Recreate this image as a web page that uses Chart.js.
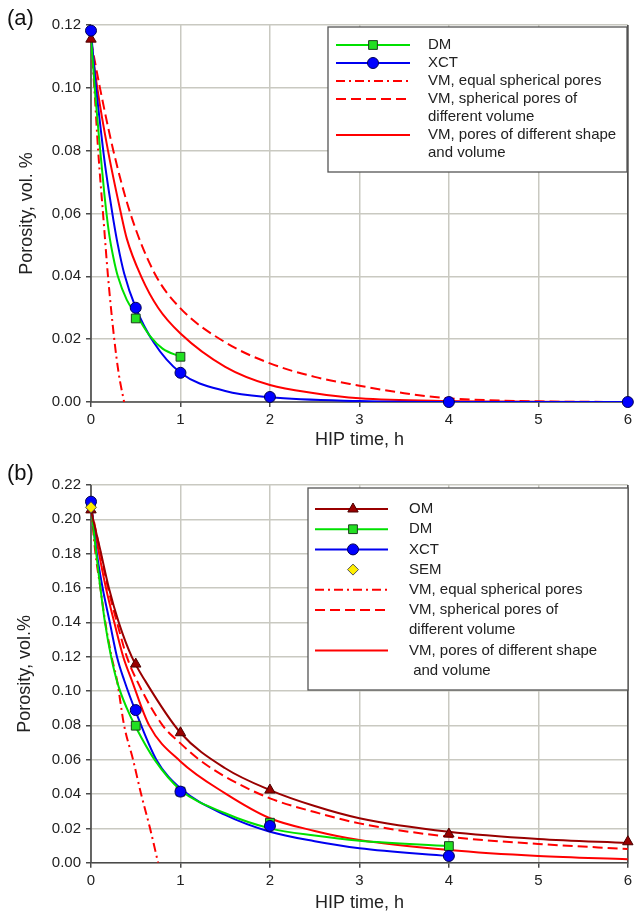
<!DOCTYPE html>
<html>
<head>
<meta charset="utf-8">
<title>HIP porosity</title>
<script src="https://cdn.jsdelivr.net/npm/chart.js@4.4.1/dist/chart.umd.min.js"></script>
<style>
  body { margin: 0; background: #fff; }
  #wrap { position: relative; width: 636px; height: 914px; }
  canvas { position: absolute; left: 0; }
</style>
</head>
<body>
<div id="wrap">
  <canvas id="chartA" width="636" height="455" style="top:0"></canvas>
  <canvas id="chartB" width="636" height="459" style="top:455px"></canvas>
</div>
<script>
// axes
const xTicks = [0, 1, 2, 3, 4, 5, 6];
const yTicksA = [0, 0.02, 0.04, 0.06, 0.08, 0.10, 0.12];
const yLabelsA = ["0.00", "0.02", "0.04", "0,06", "0.08", "0.10", "0.12"];
const yTicksB = [0, 0.02, 0.04, 0.06, 0.08, 0.10, 0.12, 0.14, 0.16, 0.18, 0.20, 0.22];
const yLabelsB = ["0.00", "0.02", "0.04", "0.06", "0.08", "0.10", "0.12", "0.14", "0.16", "0.18", "0.20", "0.22"];

// (a) measured points [time h, porosity]
const omPtsA = [[0, 0.1155]];
const dmPtsA = [[0.5, 0.0266], [1, 0.0144]];
const xctPtsA = [[0, 0.1182], [0.5, 0.030], [1, 0.0093], [2, 0.0016], [4, 0.0], [6, 0.0]];

// (a) fitted / model curves
const dmCurveA = [[0, 0.116], [0.05, 0.097], [0.1, 0.081], [0.15, 0.066], [0.2, 0.054], [0.25, 0.046],
  [0.3, 0.040], [0.4, 0.0325], [0.5, 0.028], [0.66, 0.021], [0.8, 0.017], [1, 0.0144]];
const xctCurveA = [[0, 0.118], [0.05, 0.102], [0.1, 0.089], [0.15, 0.077], [0.2, 0.067], [0.25, 0.058],
  [0.3, 0.050], [0.37, 0.041], [0.5, 0.030], [0.7, 0.019], [1, 0.0093], [1.5, 0.0035], [2, 0.0015],
  [3, 0.0003], [4, 0], [6, 0]];
const vmEqualA = [[0, 0.115], [0.037, 0.10], [0.08, 0.08], [0.14, 0.058], [0.19, 0.04], [0.26, 0.02],
  [0.31, 0.009], [0.37, 0]];
const vmSphericalA = [[0, 0.115], [0.10, 0.10], [0.25, 0.08], [0.44, 0.06], [0.71, 0.041], [1, 0.0298],
  [1.5, 0.019], [2, 0.0123], [2.5, 0.0080], [3, 0.0052], [3.5, 0.0028], [4, 0.0012], [5, 0.0002], [6, 0]];
const vmShapeA = [[0, 0.115], [0.07, 0.10], [0.19, 0.08], [0.335, 0.06], [0.40, 0.052], [0.56, 0.04],
  [0.75, 0.030], [1, 0.0218], [1.5, 0.0112], [2, 0.0054], [2.5, 0.0028], [3, 0.0012], [4, 0.0003],
  [5, 0.0001], [6, 0]];

// (b) measured points
const omPtsB = [[0, 0.2055], [0.5, 0.1157], [1, 0.0757], [2, 0.0423], [4, 0.0167], [6, 0.0122]];
const dmPtsB = [[0, 0.209], [0.5, 0.0798], [1, 0.0414], [2, 0.0233], [4, 0.0097]];
const xctPtsB = [[0, 0.2103], [0.5, 0.0889], [1, 0.0414], [2, 0.0214], [4, 0.0039]];
const semPtsB = [[0, 0.207]];

// (b) fitted / model curves
const omCurveB = [[0, 0.205], [0.1, 0.183], [0.2, 0.16], [0.31, 0.14], [0.455, 0.12], [0.6, 0.1064],
  [1, 0.0757], [1.5, 0.055], [2, 0.0423], [2.5, 0.033], [3, 0.0259], [4, 0.018], [5, 0.0138], [6, 0.0115]];
const dmCurveB = [[0, 0.208], [0.05, 0.184], [0.1, 0.162], [0.156, 0.14], [0.225, 0.12], [0.3, 0.104],
  [0.4, 0.090], [0.5, 0.079], [0.71, 0.06], [1, 0.0424], [1.5, 0.0288], [2, 0.020], [2.5, 0.0158],
  [3, 0.0128], [4, 0.0097]];
const xctCurveB = [[0, 0.210], [0.06, 0.182], [0.13, 0.16], [0.21, 0.14], [0.29, 0.12], [0.37, 0.1064],
  [0.5, 0.088], [0.73, 0.06], [1, 0.0433], [1.5, 0.0278], [2, 0.018], [2.5, 0.0125], [3, 0.0084], [4, 0.0039]];
const vmEqualB = [[0, 0.207], [0.05, 0.18], [0.105, 0.16], [0.16, 0.14], [0.23, 0.12], [0.29, 0.1064],
  [0.37, 0.08], [0.47, 0.06], [0.56, 0.04], [0.66, 0.02], [0.75, 0]];
const vmSphericalB = [[0, 0.207], [0.1, 0.182], [0.19, 0.16], [0.29, 0.14], [0.40, 0.12], [0.51, 0.1064],
  [0.80, 0.08], [1, 0.0695], [1.21, 0.06], [1.5, 0.0501], [2, 0.0375], [2.5, 0.0295], [3, 0.0229],
  [4, 0.0151], [5, 0.0109], [6, 0.0080]];
const vmShapeB = [[0, 0.207], [0.09, 0.18], [0.167, 0.16], [0.26, 0.14], [0.36, 0.12], [0.455, 0.1064],
  [0.65, 0.08], [1, 0.059], [1.5, 0.0404], [2, 0.0259], [2.5, 0.0185], [3, 0.0132], [4, 0.0074],
  [5, 0.0039], [6, 0.0020]];

const FONT = "'Liberation Sans', Arial, sans-serif";
const GREEN = "#00e000";
const BLUE = "#0000f0";
const RED = "#ff0000";
const DARKRED = "#990000";
const GRID = "#c9c9c1";
const AXIS = "#4a4a4a";
const TEXT = "#222";

const DASH = [10, 5];
const DASHDOT = [9, 4, 2, 4];

const OM_MARK = { style: "triangle", fill: DARKRED, stroke: "#4a0000", r: 6 };
const DM_MARK = { style: "rect", fill: "#22e022", stroke: "#1d3d1d", r: 6.2 };
const XCT_MARK = { style: "circle", fill: "#0000ff", stroke: "#000055", r: 5.5 };
const SEM_MARK = { style: "rectRot", fill: "#ffee00", stroke: "#555", r: 5.5 };

function pts(pairs) {
  return pairs.map(p => ({ x: p[0], y: p[1] }));
}

function curve(pairs, color, dash) {
  return {
    data: pts(pairs),
    showLine: true,
    borderColor: color,
    borderWidth: 2,
    borderDash: dash || [],
    pointRadius: 0,
    cubicInterpolationMode: "monotone",
    order: 2,
  };
}

function marks(pairs, m) {
  return {
    data: pts(pairs),
    showLine: false,
    pointStyle: m.style,
    pointRadius: m.r,
    pointBackgroundColor: m.fill,
    pointBorderColor: m.stroke,
    pointBorderWidth: 1,
    clip: false,
    order: 1,
  };
}

// small marker painter for the legend box
function drawMark(ctx, m, x, y) {
  ctx.save();
  ctx.fillStyle = m.fill;
  ctx.strokeStyle = m.stroke;
  ctx.lineWidth = 1;
  ctx.setLineDash([]);
  ctx.beginPath();
  const r = m.r;
  if (m.style === "circle") {
    ctx.arc(x, y, r, 0, Math.PI * 2);
  } else if (m.style === "rect") {
    const s = r * Math.SQRT1_2;
    ctx.rect(x - s, y - s, 2 * s, 2 * s);
  } else if (m.style === "triangle") {
    ctx.moveTo(x, y - r);
    ctx.lineTo(x + r * 0.866, y + r * 0.5);
    ctx.lineTo(x - r * 0.866, y + r * 0.5);
    ctx.closePath();
  } else {
    ctx.moveTo(x, y - r);
    ctx.lineTo(x + r, y);
    ctx.lineTo(x, y + r);
    ctx.lineTo(x - r, y);
    ctx.closePath();
  }
  ctx.fill();
  ctx.stroke();
  ctx.restore();
}

// dark left / bottom / right frame of the plot area, under the curves
const framePlugin = {
  id: "frame",
  beforeDatasetsDraw(chart) {
    const { ctx, chartArea: a } = chart;
    ctx.save();
    ctx.strokeStyle = AXIS;
    ctx.lineWidth = 1.6;
    ctx.beginPath();
    ctx.moveTo(a.left, a.top);
    ctx.lineTo(a.left, a.bottom);
    ctx.lineTo(a.right, a.bottom);
    ctx.lineTo(a.right, a.top);
    ctx.stroke();
    ctx.restore();
  },
  afterDraw(chart, args, opts) {
    const ctx = chart.ctx;
    ctx.save();
    ctx.fillStyle = "#111";
    ctx.font = "22px " + FONT;
    ctx.textBaseline = "middle";
    ctx.fillText(opts.label, 7, 19);
    ctx.restore();
  },
};

const legendPlugin = {
  id: "boxLegend",
  afterDatasetsDraw(chart, args, o) {
    const ctx = chart.ctx;
    ctx.save();
    ctx.fillStyle = "#fff";
    ctx.fillRect(o.box[0], o.box[1], o.box[2], o.box[3]);
    ctx.strokeStyle = "#555";
    ctx.lineWidth = 1.3;
    ctx.strokeRect(o.box[0], o.box[1], o.box[2], o.box[3]);
    ctx.font = "15px " + FONT;
    ctx.textBaseline = "middle";
    let row = 0;
    o.items.forEach(it => {
      const y = o.firstY + row * o.rowH;
      if (it.color) {
        ctx.strokeStyle = it.color;
        ctx.lineWidth = 2;
        ctx.setLineDash(it.dash || []);
        ctx.beginPath();
        ctx.moveTo(o.lineX[0], y);
        ctx.lineTo(o.lineX[1], y);
        ctx.stroke();
        ctx.setLineDash([]);
      }
      if (it.mark) drawMark(ctx, it.mark, o.markX, y);
      ctx.fillStyle = TEXT;
      it.text.forEach((t, k) => {
        ctx.fillText(t, o.textX, y + k * o.rowH);
      });
      row += it.text.length;
    });
    ctx.restore();
  },
};

function panel(id, cfg) {
  const tickFont = { family: FONT, size: 15 };
  const titleFont = { family: FONT, size: 18 };
  return new Chart(document.getElementById(id), {
    type: "scatter",
    data: { datasets: cfg.datasets },
    options: {
      responsive: false,
      animation: false,
      events: [],
      layout: { padding: { top: cfg.top, right: 4, left: 0, bottom: 0 } },
      plugins: {
        legend: { display: false },
        tooltip: { enabled: false },
        frame: { label: cfg.label },
        boxLegend: cfg.legend,
      },
      scales: {
        x: {
          type: "linear",
          min: 0,
          max: 6,
          afterBuildTicks: s => { s.ticks = xTicks.map(v => ({ value: v })); },
          afterFit: s => { s.height = cfg.xAxisH; },
          ticks: { font: tickFont, color: TEXT, padding: 4, maxRotation: 0, autoSkip: false },
          grid: { color: GRID, lineWidth: 1.5, tickLength: 5, tickColor: AXIS },
          border: { display: false },
          title: { display: true, text: "HIP time, h", font: titleFont, color: TEXT, padding: { top: 0, bottom: cfg.xTitlePad } },
        },
        y: {
          type: "linear",
          min: 0,
          max: cfg.yTicks[cfg.yTicks.length - 1],
          afterBuildTicks: s => { s.ticks = cfg.yTicks.map(v => ({ value: v })); },
          afterFit: s => { s.width = 91; },
          ticks: {
            font: tickFont, color: TEXT, padding: 5, autoSkip: false,
            callback: (v, i) => cfg.yLabels[i],
          },
          grid: { color: GRID, lineWidth: 1.5, tickLength: 5, tickColor: AXIS },
          border: { display: false },
          title: { display: true, text: cfg.yTitle, font: titleFont, color: TEXT, padding: { top: cfg.yTitlePad, bottom: 0 } },
        },
      },
    },
    plugins: [framePlugin, legendPlugin],
  });
}

panel("chartA", {
  label: "(a)",
  top: 25,
  xAxisH: 53,
  xTitlePad: 4,
  yTitlePad: 16,
  yTicks: yTicksA,
  yLabels: yLabelsA,
  yTitle: "Porosity, vol. %",
  datasets: [
    marks(xctPtsA, XCT_MARK),
    marks(omPtsA, OM_MARK),
    marks(dmPtsA, DM_MARK),
    curve(dmCurveA, GREEN),
    curve(xctCurveA, BLUE),
    curve(vmEqualA, RED, DASHDOT),
    curve(vmSphericalA, RED, DASH),
    curve(vmShapeA, RED),
  ],
  legend: {
    box: [328, 27, 299, 145],
    lineX: [336, 410],
    markX: 373,
    textX: 428,
    firstY: 45,
    rowH: 18,
    items: [
      { text: ["DM"], color: GREEN, mark: DM_MARK },
      { text: ["XCT"], color: BLUE, mark: XCT_MARK },
      { text: ["VM, equal spherical pores"], color: RED, dash: DASHDOT },
      { text: ["VM, spherical pores of", "different volume"], color: RED, dash: DASH },
      { text: ["VM, pores of different shape", "and volume"], color: RED },
    ],
  },
});

panel("chartB", {
  label: "(b)",
  top: 30,
  xAxisH: 51.3,
  xTitlePad: 0,
  yTitlePad: 14,
  yTicks: yTicksB,
  yLabels: yLabelsB,
  yTitle: "Porosity, vol.%",
  datasets: [
    marks(semPtsB, SEM_MARK),
    marks(xctPtsB, XCT_MARK),
    marks(dmPtsB, DM_MARK),
    marks(omPtsB, OM_MARK),
    curve(omCurveB, DARKRED),
    curve(dmCurveB, GREEN),
    curve(xctCurveB, BLUE),
    curve(vmEqualB, RED, DASHDOT),
    curve(vmSphericalB, RED, DASH),
    curve(vmShapeB, RED),
  ],
  legend: {
    box: [308, 33, 320, 202],
    lineX: [315, 388],
    markX: 353,
    textX: 409,
    firstY: 54,
    rowH: 20.2,
    items: [
      { text: ["OM"], color: DARKRED, mark: OM_MARK },
      { text: ["DM"], color: GREEN, mark: DM_MARK },
      { text: ["XCT"], color: BLUE, mark: XCT_MARK },
      { text: ["SEM"], mark: SEM_MARK },
      { text: ["VM, equal spherical pores"], color: RED, dash: DASHDOT },
      { text: ["VM, spherical pores of", "different volume"], color: RED, dash: DASH },
      { text: ["VM, pores of different shape", " and volume"], color: RED },
    ],
  },
});
</script>
</body>
</html>
